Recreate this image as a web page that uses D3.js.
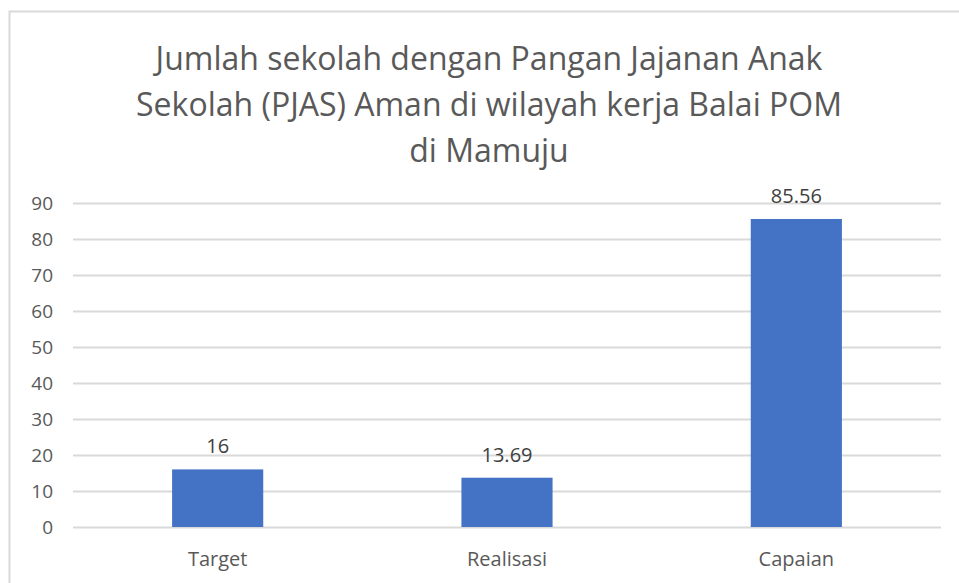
<!DOCTYPE html>
<html lang="id">
  <head>
    <meta charset="UTF-8" />
    <title>PJAS Aman - Balai POM Mamuju</title>
    <style>
      body {
        margin: 0;
        background: #fff;
        font-family: "Open Sans", "Noto Sans", Arial, sans-serif;
      }
    </style>
    <script src="https://d3js.org/d3.v7.min.js"></script>
  </head>
  <body>
  <script>

    const categories = ["Target", "Realisasi", "Capaian"]
    const values = [16, 13.69, 85.56]
    const valueLabels = ["16", "13.69", "85.56"]
    const yTicks = [0, 10, 20, 30, 40, 50, 60, 70, 80, 90]
    const titleLines = [
      "Jumlah sekolah dengan Pangan Jajanan Anak",
      "Sekolah (PJAS) Aman di wilayah kerja Balai POM",
      "di Mamuju"
    ]

    const W = 959, H = 583
    const plot = { left: 73, right: 941, top: 203, bottom: 527 }

    const svg = d3.select("body").append("svg")
        .attr("width", W)
        .attr("height", H)

    // chart frame (only top/left edges visible in the crop)
    svg.append("rect")
        .attr("x", 9.5)
        .attr("y", 11.5)
        .attr("width", 1000)
        .attr("height", 1000)
        .attr("fill", "none")
        .attr("stroke", "#d9d9d9")
        .attr("stroke-width", 2)

    svg.append("g")
      .selectAll("text")
      .data(titleLines)
      .enter().append("text")
        .attr("x", 489)
        .attr("y", (d, i) => 70 + i * 46)
        .attr("text-anchor", "middle")
        .attr("font-size", "32px")
        .attr("fill", "#595959")
        .text(d => d)

    const x = d3.scaleBand()
        .domain(categories)
        .range([plot.left, plot.right])
        .paddingInner(0.685)
        .paddingOuter(0.3425)

    const y = d3.scaleLinear()
        .domain([0, 90])
        .range([plot.bottom, plot.top])

    // gridlines
    svg.append("g")
        .attr("transform", `translate(${plot.left},0)`)
        .call(d3.axisLeft(y).tickValues(yTicks).tickSize(-(plot.right - plot.left)).tickFormat(""))
        .call(g => g.select(".domain").remove())
        .call(g => g.selectAll("line").attr("stroke", "#d9d9d9").attr("stroke-width", 2))

    // y labels
    svg.append("g")
        .attr("transform", "translate(53,0)")
        .call(d3.axisLeft(y).tickValues(yTicks).tickSize(0).tickPadding(0))
        .call(g => g.select(".domain").remove())
        .call(g => g.selectAll("text")
          .attr("font-family", "'Open Sans', 'Noto Sans', Arial, sans-serif")
          .attr("font-size", "19px")
          .attr("fill", "#595959"))

    svg.selectAll("rect.bar")
      .data(values)
      .enter().append("rect")
        .attr("class", "bar")
        .attr("x", (d, i) => x(categories[i]))
        .attr("y", d => y(d))
        .attr("width", x.bandwidth())
        .attr("height", d => y(0) - y(d))
        .attr("fill", "#4472c4")

    svg.selectAll("text.val")
      .data(values)
      .enter().append("text")
        .attr("class", "val")
        .attr("x", (d, i) => x(categories[i]) + x.bandwidth() / 2)
        .attr("y", d => y(d) - 16)
        .attr("text-anchor", "middle")
        .attr("font-size", "20px")
        .attr("fill", "#404040")
        .text((d, i) => valueLabels[i])

    svg.selectAll("text.cat")
      .data(categories)
      .enter().append("text")
        .attr("class", "cat")
        .attr("x", d => x(d) + x.bandwidth() / 2)
        .attr("y", 566)
        .attr("text-anchor", "middle")
        .attr("font-size", "20px")
        .attr("fill", "#595959")
        .text(d => d)

  </script>
  </body>
</html>
